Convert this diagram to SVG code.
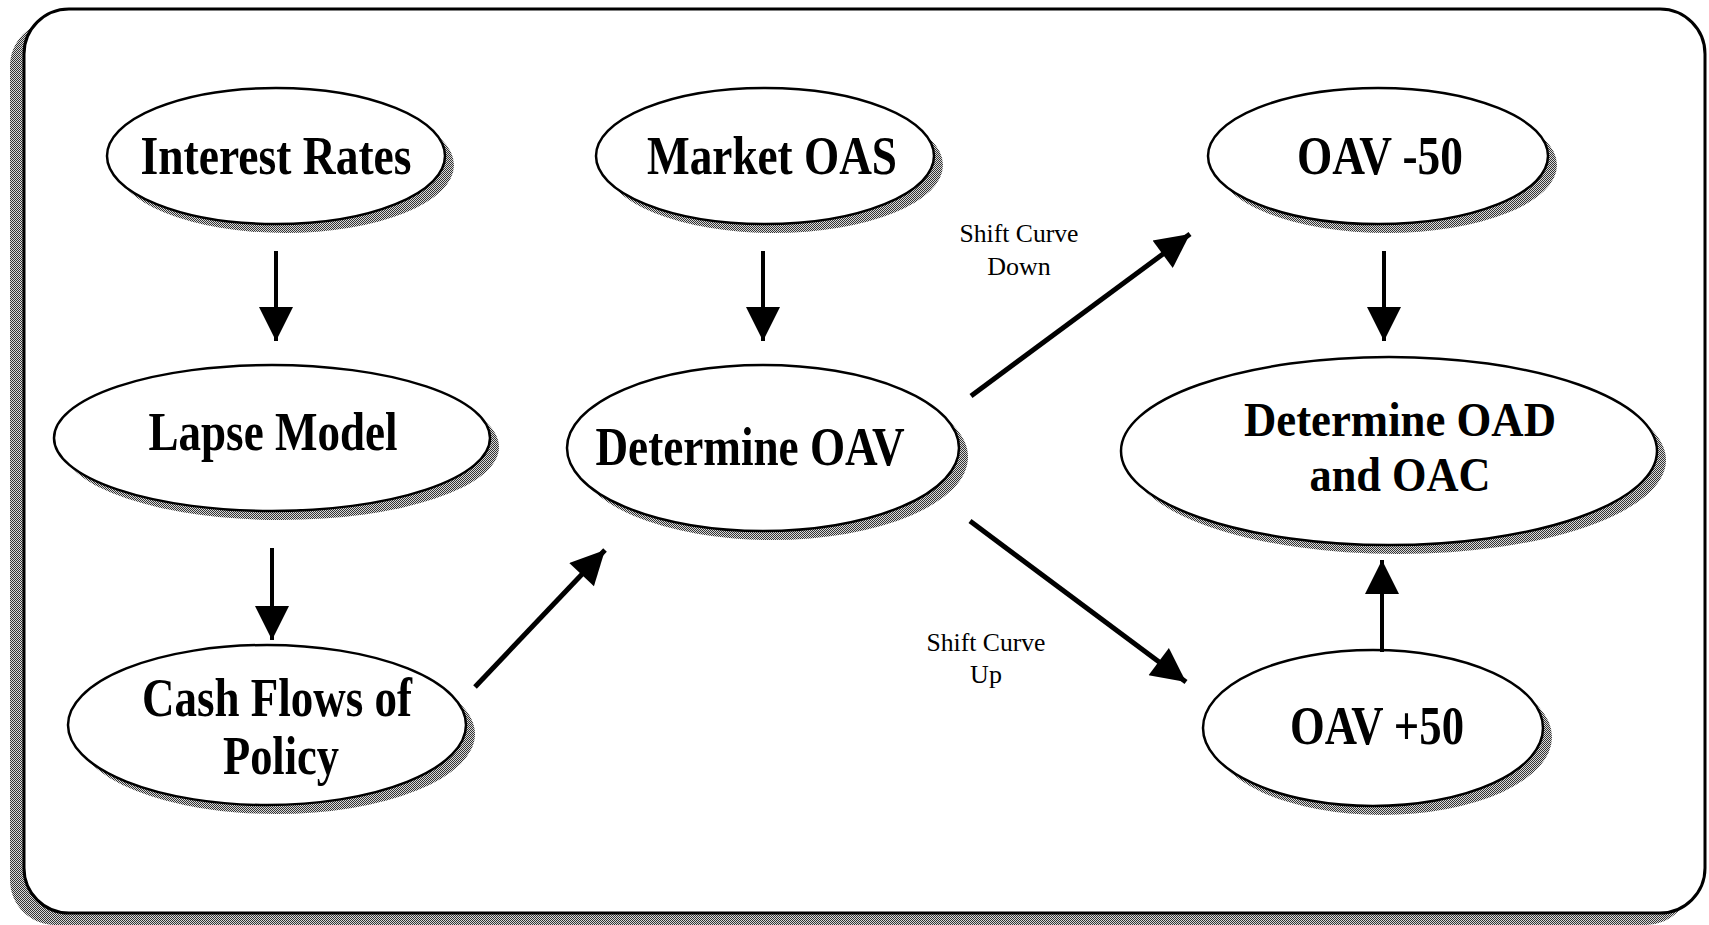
<svg xmlns="http://www.w3.org/2000/svg" width="1709" height="925" viewBox="0 0 1709 925">
<defs>
<pattern id="hatch" width="2" height="2" patternUnits="userSpaceOnUse">
<rect width="2" height="2" fill="#d8d8d8"/>
<rect x="0" y="0" width="1" height="1" fill="#333"/>
<rect x="1" y="1" width="1" height="1" fill="#333"/>
</pattern>
<marker id="ah" viewBox="0 0 10 10" refX="10" refY="5" markerUnits="userSpaceOnUse" markerWidth="50" markerHeight="34" orient="auto">
<path d="M0,0 L10,5 L0,10 Z" fill="#000"/>
</marker>
</defs>
<style>
.shadow{fill:url(#hatch);stroke:none}
.node{fill:#fff;stroke:#000;stroke-width:2.5}
.lbl{font-family:"Liberation Serif","Times New Roman",serif;font-weight:bold;font-size:54px;fill:#000;text-anchor:middle}
.lbl2{font-family:"Liberation Serif","Times New Roman",serif;font-weight:bold;font-size:48px;fill:#000;text-anchor:middle}
.small{font-family:"Liberation Serif","Times New Roman",serif;font-size:26px;fill:#000;text-anchor:middle}
.conn{stroke:#000;stroke-width:4;fill:none;marker-end:url(#ah)}
.diag{stroke:#000;stroke-width:5;fill:none;marker-end:url(#ah)}
</style>
<rect width="1709" height="925" fill="#fff"/>
<g id="frame">
<rect x="10" y="21" width="1681" height="904" rx="45" ry="45" class="shadow"/>
<rect x="24" y="9" width="1681" height="904" rx="45" ry="45" fill="#fff" stroke="#000" stroke-width="3"/>
</g>
<g id="n-interest">
<ellipse cx="285" cy="165" rx="169" ry="68" class="shadow"/>
<ellipse cx="276" cy="156" rx="169" ry="68" class="node"/>
<text x="276" y="174" class="lbl" textLength="271" lengthAdjust="spacingAndGlyphs">Interest Rates</text>
</g>
<g id="n-market">
<ellipse cx="774" cy="165" rx="169" ry="68" class="shadow"/>
<ellipse cx="765" cy="156" rx="169" ry="68" class="node"/>
<text x="772" y="174" class="lbl" textLength="250" lengthAdjust="spacingAndGlyphs">Market OAS</text>
</g>
<g id="n-oavm50">
<ellipse cx="1387" cy="165" rx="170" ry="68" class="shadow"/>
<ellipse cx="1378" cy="156" rx="170" ry="68" class="node"/>
<text x="1380" y="174" class="lbl" textLength="166" lengthAdjust="spacingAndGlyphs">OAV -50</text>
</g>
<g id="n-lapse">
<ellipse cx="281" cy="447" rx="218" ry="73" class="shadow"/>
<ellipse cx="272" cy="438" rx="218" ry="73" class="node"/>
<text x="273" y="450" class="lbl" textLength="249" lengthAdjust="spacingAndGlyphs">Lapse Model</text>
</g>
<g id="n-detoav">
<ellipse cx="772" cy="457" rx="196" ry="83" class="shadow"/>
<ellipse cx="763" cy="448" rx="196" ry="83" class="node"/>
<text x="750" y="465" class="lbl" textLength="309" lengthAdjust="spacingAndGlyphs">Determine OAV</text>
</g>
<g id="n-oad">
<ellipse cx="1398" cy="460" rx="268" ry="94" class="shadow"/>
<ellipse cx="1389" cy="451" rx="268" ry="94" class="node"/>
<text x="1400" y="436" class="lbl2" textLength="312" lengthAdjust="spacingAndGlyphs">Determine OAD</text>
<text x="1400" y="491" class="lbl2" textLength="181" lengthAdjust="spacingAndGlyphs">and OAC</text>
</g>
<g id="n-cash">
<ellipse cx="276" cy="734" rx="199" ry="80" class="shadow"/>
<ellipse cx="267" cy="725" rx="199" ry="80" class="node"/>
<text x="277" y="716" class="lbl" textLength="270" lengthAdjust="spacingAndGlyphs">Cash Flows of</text>
<text x="281" y="774" class="lbl" textLength="116" lengthAdjust="spacingAndGlyphs">Policy</text>
</g>
<g id="n-oavp50">
<ellipse cx="1382" cy="737" rx="170" ry="78" class="shadow"/>
<ellipse cx="1373" cy="728" rx="170" ry="78" class="node"/>
<text x="1377" y="744" class="lbl" textLength="174" lengthAdjust="spacingAndGlyphs">OAV +50</text>
</g>
<g id="connectors">
<line x1="276" y1="251" x2="276" y2="341" class="conn"/>
<line x1="272" y1="548" x2="272" y2="640" class="conn"/>
<line x1="763" y1="251" x2="763" y2="341" class="conn"/>
<line x1="1384" y1="251" x2="1384" y2="341" class="conn"/>
<line x1="1382" y1="652" x2="1382" y2="560" class="conn"/>
<line x1="475" y1="687" x2="605" y2="550" class="diag"/>
<line x1="971" y1="396" x2="1190" y2="234" class="diag"/>
<line x1="970" y1="521" x2="1186" y2="682" class="diag"/>
<text x="1019" y="242" class="small" textLength="119" lengthAdjust="spacingAndGlyphs">Shift Curve</text>
<text x="1019" y="275" class="small">Down</text>
<text x="986" y="651" class="small" textLength="119" lengthAdjust="spacingAndGlyphs">Shift Curve</text>
<text x="986" y="683" class="small">Up</text>
</g>
</svg>
